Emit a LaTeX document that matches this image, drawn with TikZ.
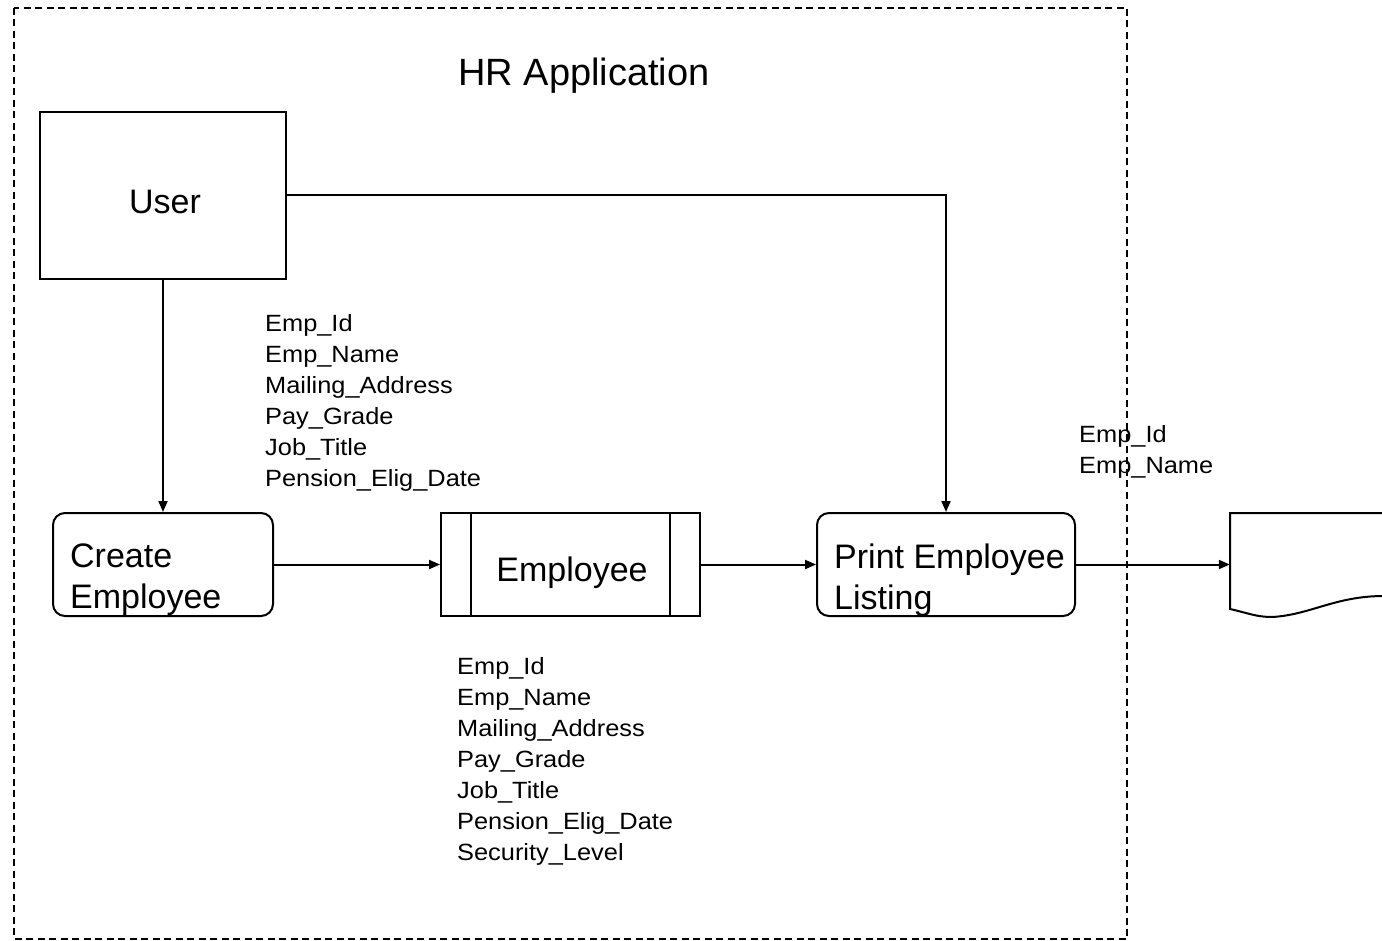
\documentclass[tikz,border=0pt]{standalone}
\usepackage{fontspec}
\setmainfont{Liberation Sans}
\newfontfamily\labelfont[FakeStretch=1.08]{Liberation Sans}
\usetikzlibrary{arrows.meta}
\begin{document}
\begin{tikzpicture}[x=1pt,y=-1pt,
  line join=miter,
  flow/.style={line width=2pt,-{Triangle[length=11pt,width=9pt]}},
  outline/.style={draw,line width=2pt,inner sep=0pt},
  procbox/.style={outline,rounded corners=12pt,minimum width=220pt,minimum height=103pt},
  bigtext/.style={inner sep=0pt,font=\fontsize{34}{41}\selectfont},
  fieldlist/.style={inner sep=0pt,align=left,anchor=north west,font=\labelfont\fontsize{23.5}{31}\selectfont},
  boundary/.style={draw,line width=1.2pt,dash pattern=on 7pt off 4.5pt}
]
\useasboundingbox (0,0) rectangle (1382,941);

% system boundary
\draw[boundary] (14,8) rectangle (1127,939);
\node[inner sep=0pt,anchor=base,font=\fontsize{38}{44}\selectfont] (title) at (584,86) {HR Application};

% external entity
\node[outline,minimum width=246pt,minimum height=167pt] (user) at (163,195.5) {};
\node[bigtext,anchor=base] (usertxt) at (165,214) {User};

% processes
\node[procbox] (create) at (163,564.5) {};
\node[bigtext,align=left,anchor=north west] (createtxt) at (70,543.5) {Create\\Employee};

\node[procbox,minimum width=258pt] (print) at (946,564.5) {};
\node[bigtext,align=left,anchor=north west] (printtxt) at (834,543.5) {Print Employee\\Listing};

% data store
\node[outline,minimum width=259pt,minimum height=103pt] (store) at (570.5,564.5) {};
\draw[line width=1.4pt] ([xshift=31pt]store.north west) -- ([xshift=31pt]store.south west);
\draw[line width=1.4pt] ([xshift=-31pt]store.north east) -- ([xshift=-31pt]store.south east);
\node[bigtext,anchor=base] (storetxt) at (572,581) {Employee};

% printed report
\node[inner sep=0pt,minimum width=170pt,minimum height=103pt] (doc) at (1315,564.5) {};
\draw[line width=2pt] (1384,513) -- (1230,513) -- (1230,609)
  .. controls (1248,613) and (1256,617) .. (1272,617)
  .. controls (1310,615) and (1335,596) .. (1384,596);

% data flows
\draw[flow] (user.south) -- (create.north);
\draw[flow] (user.east) -| (print.north);
\draw[flow] (create.east) -- (store.west);
\draw[flow] (store.east) -- (print.west);
\draw[flow] (print.east) -- (doc.west);

% field lists
\node[fieldlist] (inflds) at (265,314.5) {Emp\_Id\\Emp\_Name\\Mailing\_Address\\Pay\_Grade\\Job\_Title\\Pension\_Elig\_Date};
\node[fieldlist] (storeflds) at (457,657.5) {Emp\_Id\\Emp\_Name\\Mailing\_Address\\Pay\_Grade\\Job\_Title\\Pension\_Elig\_Date\\Security\_Level};
\node[fieldlist] (outflds) at (1079,425.5) {Emp\_Id\\Emp\_Name};
\end{tikzpicture}
\end{document}
